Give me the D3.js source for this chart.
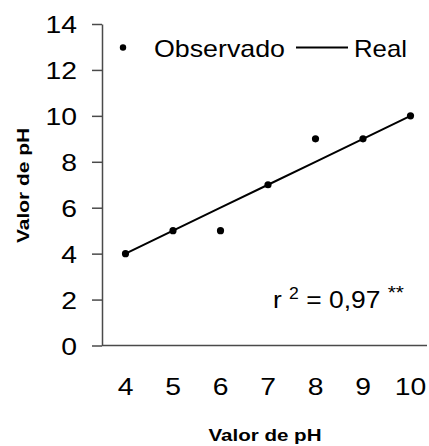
<!DOCTYPE html>
<html>
<head>
<meta charset="utf-8">
<script src="https://cdn.jsdelivr.net/npm/d3@7"></script>
<style>
  body { margin: 0; background: #fff; }
  text { font-family: "Liberation Sans", Arial, sans-serif; fill: #000; }
</style>
</head>
<body>
<div id="chart"></div>
<script>
// data
var phValues = [4, 5, 6, 7, 8, 9, 10];
var observado = [4, 5, 5, 7, 9, 9, 10];
var real = [4, 5, 6, 7, 8, 9, 10];
var yTicks = [0, 2, 4, 6, 8, 10, 12, 14];
var axisTitle = "Valor de pH";
var r2Label = "0,97";

var W = 429, H = 446;
var plotLeft = 102, plotTop = 24, plotBottom = 345.5, plotRight = 427;
var stretch = 1.18; // the source text is a bit wider than Liberation Sans

var svg = d3.select("#chart").append("svg")
    .attr("width", W)
    .attr("height", H);

var x = d3.scaleLinear()
    .domain([4, 10])
    .range([125.5, 410.5]);

var y = d3.scaleLinear()
    .domain([0, 14])
    .range([plotBottom, plotTop]);

var axisColor = "#4a4a4a";

// y axis
var yAxis = svg.append("g")
    .attr("transform", "translate(" + plotLeft + ",0)")
    .call(d3.axisLeft(y).tickValues(yTicks).tickSize(10).tickPadding(15).tickSizeOuter(0));
yAxis.select(".domain").attr("stroke", axisColor).attr("stroke-width", 1.5);
yAxis.selectAll(".tick line").attr("stroke", axisColor).attr("stroke-width", 1.5);
yAxis.selectAll(".tick text")
    .style("font-family", "'Liberation Sans', Arial, sans-serif")
    .style("font-size", "24px")
    .attr("fill", "#111")
    .attr("x", -25 / stretch)
    .attr("transform", "scale(" + stretch + ",1)")
    .attr("dy", "0.36em");

// x axis (no tick marks)
svg.append("line")
    .attr("x1", plotLeft).attr("x2", plotRight)
    .attr("y1", y(0)).attr("y2", y(0))
    .attr("stroke", axisColor).attr("stroke-width", 1.5);

svg.append("g").selectAll("text")
    .data(phValues)
    .enter().append("text")
    .attr("transform", function (d) {
        return "translate(" + x(d) + ",395) scale(" + stretch + ",1)";
    })
    .attr("text-anchor", "middle")
    .style("font-size", "24px")
    .attr("fill", "#111")
    .text(function (d) { return d; });

// axis titles
svg.append("text")
    .attr("x", 265)
    .attr("y", 441)
    .attr("text-anchor", "middle")
    .style("font-size", "16px")
    .style("font-weight", "bold")
    .attr("textLength", 113)
    .attr("lengthAdjust", "spacingAndGlyphs")
    .text(axisTitle);

svg.append("text")
    .attr("transform", "translate(29,185.5) rotate(-90)")
    .attr("text-anchor", "middle")
    .style("font-size", "16px")
    .style("font-weight", "bold")
    .attr("textLength", 115)
    .attr("lengthAdjust", "spacingAndGlyphs")
    .text(axisTitle);

// real line
var line = d3.line()
    .x(function (d, i) { return x(phValues[i]); })
    .y(function (d) { return y(d); });

svg.append("path")
    .datum(real)
    .attr("d", line)
    .attr("fill", "none")
    .attr("stroke", "#000")
    .attr("stroke-width", 2);

// observed points
svg.append("g").selectAll("circle")
    .data(observado)
    .enter().append("circle")
    .attr("cx", function (d, i) { return x(phValues[i]); })
    .attr("cy", function (d) { return y(d); })
    .attr("r", 3.6)
    .attr("fill", "#000");

// legend
var lg = svg.append("g");
lg.append("circle").attr("cx", 123).attr("cy", 47.5).attr("r", 3.2).attr("fill", "#000");
lg.append("text").attr("x", 154).attr("y", 57)
    .style("font-size", "24px")
    .attr("textLength", 131).attr("lengthAdjust", "spacingAndGlyphs")
    .text("Observado");
lg.append("line").attr("x1", 296).attr("x2", 348).attr("y1", 47.5).attr("y2", 47.5)
    .attr("stroke", "#000").attr("stroke-width", 2);
lg.append("text").attr("x", 354).attr("y", 57)
    .style("font-size", "24px")
    .attr("textLength", 53).attr("lengthAdjust", "spacingAndGlyphs")
    .text("Real");

// r2 annotation
var r2 = svg.append("text")
    .attr("transform", "translate(273,308) scale(1.1,1)")
    .style("font-size", "24px").style("white-space", "pre");
r2.append("tspan").text("r\u00a0");
r2.append("tspan").attr("dy", -9).style("font-size", "16px").text("2");
r2.append("tspan").attr("dy", 9).text("\u00a0=\u00a0" + r2Label + "\u00a0");
r2.append("tspan").attr("dy", -9).style("font-size", "19px").text("**");
</script>
</body>
</html>
